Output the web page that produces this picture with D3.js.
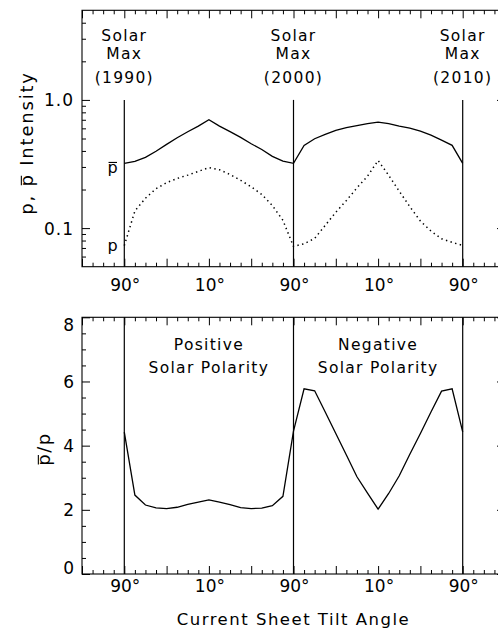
<!DOCTYPE html>
<html><head><meta charset="utf-8">
<script src="https://cdn.jsdelivr.net/npm/d3@7"></script>
<style>
html,body{margin:0;padding:0;background:#fff;}
svg{display:block;}
text{font-family:"DejaVu Sans",sans-serif;fill:#000;}
</style></head><body>
<svg id="c" width="498" height="632"></svg>
<script>
// path coordinate along the tilt-angle sequence (90°→10°→90°→10°→90°)
const pathPos = [0,10,20,30,40,50,60,70,80,90,100,110,120,130,140,150,160,170,180,190,200,210,220,230,240,250,260,270,280,290,300,310,320];
// antiproton (p-bar) intensity (solid)
const pbarIntensity = [0.320,0.331,0.356,0.398,0.450,0.507,0.565,0.625,0.700,0.625,0.565,0.510,0.455,0.410,0.363,0.333,0.320,0.442,0.498,0.538,0.578,0.607,0.629,0.652,0.671,0.652,0.625,0.603,0.571,0.532,0.486,0.442,0.320];
// proton (p) intensity (dotted)
const pIntensity = [0.073,0.136,0.171,0.203,0.226,0.244,0.259,0.277,0.296,0.285,0.262,0.236,0.210,0.183,0.150,0.115,0.072,0.0755,0.083,0.105,0.133,0.164,0.206,0.254,0.337,0.258,0.194,0.147,0.1135,0.0948,0.0826,0.0774,0.0733];
// ratio p-bar / p
const ratio = [4.42,2.46,2.15,2.06,2.04,2.08,2.17,2.24,2.31,2.24,2.16,2.07,2.04,2.05,2.13,2.42,4.45,5.77,5.71,5.05,4.38,3.71,3.03,2.52,2.02,2.51,3.06,3.73,4.38,5.05,5.70,5.77,4.43];
// x tick labels
const xTickPos = [0,80,160,240,320];
const xTickLabels = ["90°","10°","90°","10°","90°"];
// solar maximum markers
const solarMaxPos = [0,160,320];
const solarMaxYears = ["(1990)","(2000)","(2010)"];
// y ticks
const topMajor = [0.1,1];
const topMajorLabels = ["0.1","1.0"];
const topMinor = [0.06,0.07,0.08,0.09,0.2,0.3,0.4,0.5,0.6,0.7,0.8,0.9,2,3,4];
const botMajor = [0,2,4,6,8];
const botMinor = [0.5,1,1.5,2.5,3,3.5,4.5,5,5.5,6.5,7,7.5];
const polarityLabels = [["Positive","Solar Polarity"],["Negative","Solar Polarity"]];
const polarityPos = [80,240];

const svg = d3.select("#c");
const x = d3.scaleLinear().domain([-40,360]).range([82,505]);
const yTop = d3.scaleLog().domain([0.05,5]).range([266.7,10.3]);
const yBot = d3.scaleLinear().domain([0,8]).range([574,317.3]);
const xMajor = d3.range(-40,361,40), xMinor = d3.range(-40,361,10).filter(v=>v%40!==0);

function panel(y0, y1){
  const g = svg.append("g");
  g.append("rect").attr("x",x(-40)).attr("y",y1).attr("width",x(360)-x(-40)).attr("height",y0-y1)
    .attr("fill","none").attr("stroke","#000").attr("stroke-width",1.1);
  const addX = (vals,len)=>{
    g.append("g").attr("transform",`translate(0,${y0})`).call(d3.axisBottom(x).tickValues(vals).tickSize(-len).tickFormat(""))
      .call(a=>a.select(".domain").remove());
    g.append("g").attr("transform",`translate(0,${y1})`).call(d3.axisTop(x).tickValues(vals).tickSize(-len).tickFormat(""))
      .call(a=>a.select(".domain").remove());
  };
  addX(xMajor,8); addX(xMinor,4);
  return g;
}
function yTicks(g, y, vals, len){
  g.append("g").attr("transform",`translate(${x(-40)},0)`).call(d3.axisLeft(y).tickValues(vals).tickSize(-len).tickFormat(""))
    .call(a=>a.select(".domain").remove());
  g.append("g").attr("transform",`translate(${x(360)},0)`).call(d3.axisRight(y).tickValues(vals).tickSize(-len).tickFormat(""))
    .call(a=>a.select(".domain").remove());
}
// draw a bar over character i of a text element (inside its own coordinate system)
function barOver(parent, textSel, i, fs){
  const s = textSel.node().getStartPositionOfChar(i);
  const yb = s.y - fs*0.547 - 1.8;
  parent.append("line").attr("x1",s.x+fs*0.07).attr("x2",s.x+fs*0.6).attr("y1",yb).attr("y2",yb)
    .attr("stroke","#000").attr("stroke-width",1.1);
}

// ---------- top panel ----------
const gT = panel(266.7, 10.3);
yTicks(gT, yTop, topMajor, 8); yTicks(gT, yTop, topMinor, 4);
gT.selectAll(".ytl").data(topMajor).join("text").attr("x",74).attr("y",d=>yTop(d)+6.5)
  .attr("text-anchor","end").attr("font-size",17).attr("letter-spacing",1).text((d,i)=>topMajorLabels[i]);
gT.selectAll(".vl").data(solarMaxPos).join("line").attr("x1",d=>x(d)).attr("x2",d=>x(d))
  .attr("y1",yTop(1)).attr("y2",266.7).attr("stroke","#000").attr("stroke-width",1.2);
const lineT = (arr)=>d3.line().x((d,i)=>x(pathPos[i])).y(d=>yTop(d))(arr);
gT.append("path").attr("d",lineT(pbarIntensity)).attr("fill","none").attr("stroke","#000").attr("stroke-width",1.3);
gT.append("path").attr("d",lineT(pIntensity)).attr("fill","none").attr("stroke","#000").attr("stroke-width",1.5)
  .attr("stroke-dasharray","1.4,3.4");
solarMaxPos.forEach((p,i)=>{
  const t = gT.append("text").attr("text-anchor","middle").attr("font-size",15.5).attr("letter-spacing",1.3);
  t.append("tspan").attr("x",x(p)).attr("y",40.7).text("Solar");
  t.append("tspan").attr("x",x(p)).attr("y",59.3).text("Max");
  t.append("tspan").attr("x",x(p)).attr("y",83.3).text(solarMaxYears[i]);
});
const pbLab = gT.append("text").attr("x",112.5).attr("y",173).attr("text-anchor","middle").attr("font-size",16).text("p");
barOver(gT, pbLab, 0, 16);
gT.append("text").attr("x",112.5).attr("y",251).attr("text-anchor","middle").attr("font-size",16).text("p");
gT.selectAll(".xtl").data(xTickPos).join("text").attr("x",d=>x(d)+1).attr("y",290.7)
  .attr("text-anchor","middle").attr("font-size",17).text((d,i)=>xTickLabels[i]);
const gTT = gT.append("g").attr("transform","translate(33,143) rotate(-90)");
const tTitle = gTT.append("text").attr("text-anchor","middle").attr("font-size",18).attr("letter-spacing",1.8)
  .text("p, p Intensity");
barOver(gTT, tTitle, 3, 18);

// ---------- bottom panel ----------
const gB = panel(574, 317.3);
yTicks(gB, yBot, botMajor, 8); yTicks(gB, yBot, botMinor, 4);
gB.selectAll(".ytl").data(botMajor).join("text").attr("x",74)
  .attr("y",d=>yBot(d)+6.5+(d===8?7:d===0?-6.5:0))
  .attr("text-anchor","end").attr("font-size",17).text(d=>d);
gB.selectAll(".vl").data(solarMaxPos).join("line").attr("x1",d=>x(d)).attr("x2",d=>x(d))
  .attr("y1",317.3).attr("y2",574).attr("stroke","#000").attr("stroke-width",1.2);
gB.append("path").attr("d",d3.line().x((d,i)=>x(pathPos[i])).y(d=>yBot(d))(ratio))
  .attr("fill","none").attr("stroke","#000").attr("stroke-width",1.3);
polarityPos.forEach((p,i)=>{
  const t = gB.append("text").attr("text-anchor","middle").attr("font-size",15.5).attr("letter-spacing",1.3);
  t.append("tspan").attr("x",x(p)).attr("y",350).text(polarityLabels[i][0]);
  t.append("tspan").attr("x",x(p)).attr("y",373.3).text(polarityLabels[i][1]);
});
gB.selectAll(".xtl").data(xTickPos).join("text").attr("x",d=>x(d)+1).attr("y",592)
  .attr("text-anchor","middle").attr("font-size",17).text((d,i)=>xTickLabels[i]);
const gBT = gB.append("g").attr("transform","translate(50,449) rotate(-90)");
const bTitle = gBT.append("text").attr("text-anchor","middle").attr("font-size",18).attr("letter-spacing",1.5).text("p/p");
barOver(gBT, bTitle, 0, 18);
svg.append("text").attr("x",x(160)).attr("y",625).attr("text-anchor","middle")
  .attr("font-size",16.5).attr("letter-spacing",1.5).text("Current Sheet Tilt Angle");
svg.selectAll(".tick line").attr("stroke","#000").attr("stroke-width",1);
</script></body></html>
